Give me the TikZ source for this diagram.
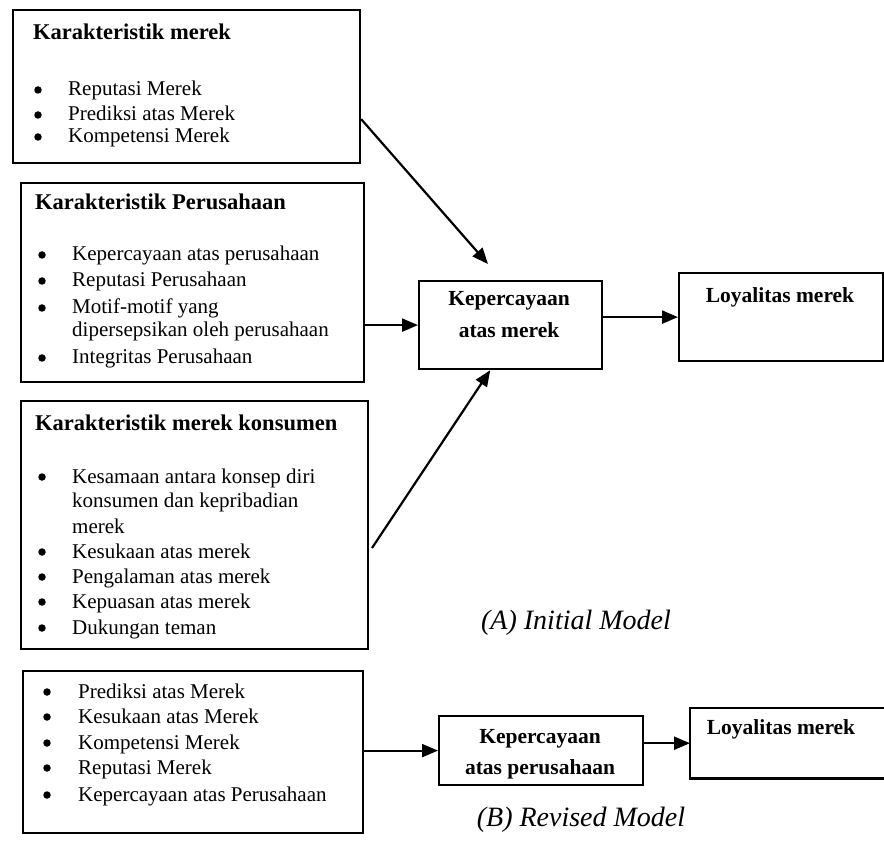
\documentclass[tikz,border=0pt]{standalone}
\usepackage{fontspec}
\newfontfamily\tnr{Liberation Serif}
\usetikzlibrary{arrows.meta,calc}
\tikzset{
  box/.style={draw, line width=2.2pt, anchor=north west, inner sep=0pt},
  ghost/.style={anchor=north west, inner sep=0pt},
  ttl/.style={anchor=base west, inner sep=0pt, font=\tnr\bfseries\fontsize{22.5}{25}\selectfont},
  itm/.style={anchor=base west, inner sep=0pt, font=\tnr\fontsize{21}{24}\selectfont},
  ctr/.style={anchor=base, inner sep=0pt, font=\tnr\bfseries\fontsize{21.5}{24}\selectfont},
  bul/.style={circle, fill, inner sep=0pt, minimum size=7.5pt},
  captxt/.style={inner sep=0pt, font=\tnr\itshape\fontsize{28}{30}\selectfont},
  arr/.style={-{Triangle[length=16pt,width=13pt]}, line width=2.2pt},
  lin/.style={line width=2.2pt}
}
\begin{document}
\begin{tikzpicture}[x=1pt,y=-1pt]
\useasboundingbox (0,0) rectangle (884,842);

% ---------- Box 1
\node[box, minimum width=347pt, minimum height=153pt] (b1) at (12,9) {};
\node[ttl] (b1t) at (33,40) {Karakteristik merek};
\node[bul] (b1d1) at (38,90) {};
\node[itm] (b1i1) at (68,96) {Reputasi Merek};
\node[bul] (b1d2) at (38,115) {};
\node[itm] (b1i2) at (68,121) {Prediksi atas Merek};
\node[bul] (b1d3) at (38,137) {};
\node[itm] (b1i3) at (68,143) {Kompetensi Merek};

% ---------- Box 2
\node[box, minimum width=343pt, minimum height=199pt] (b2) at (20,182) {};
\node[ttl] (b2t) at (35,210) {Karakteristik Perusahaan};
\node[bul] (b2d1) at (42,255) {};
\node[itm] (b2i1) at (72,261) {Kepercayaan atas perusahaan};
\node[bul] (b2d2) at (42,281) {};
\node[itm] (b2i2) at (72,287) {Reputasi Perusahaan};
\node[bul] (b2d3) at (42,308) {};
\node[itm] (b2i3) at (72,314) {Motif-motif yang};
\node[itm] (b2i4) at (72,337) {dipersepsikan oleh perusahaan};
\node[bul] (b2d5) at (42,358) {};
\node[itm] (b2i5) at (72,364) {Integritas Perusahaan};

% ---------- Box 3
\node[box, minimum width=347pt, minimum height=248pt] (b3) at (20,400) {};
\node[ttl] (b3t) at (35,430) {Karakteristik merek konsumen};
\node[bul] (b3d1) at (42,477) {};
\node[itm] (b3i1) at (72,483) {Kesamaan antara konsep diri};
\node[itm] (b3i2) at (72,507) {konsumen dan kepribadian};
\node[itm] (b3i3) at (72,533) {merek};
\node[bul] (b3d4) at (42,552) {};
\node[itm] (b3i4) at (72,558) {Kesukaan atas merek};
\node[bul] (b3d5) at (42,577) {};
\node[itm] (b3i5) at (72,583) {Pengalaman atas merek};
\node[bul] (b3d6) at (42,602) {};
\node[itm] (b3i6) at (72,608) {Kepuasan atas merek};
\node[bul] (b3d7) at (42,628) {};
\node[itm] (b3i7) at (72,634) {Dukungan teman};

% ---------- Box 4
\node[box, minimum width=340pt, minimum height=162pt] (b4) at (22,670) {};
\node[bul] (b4d1) at (47,692) {};
\node[itm] (b4i1) at (78,698) {Prediksi atas Merek};
\node[bul] (b4d2) at (47,717) {};
\node[itm] (b4i2) at (78,723) {Kesukaan atas Merek};
\node[bul] (b4d3) at (47,743) {};
\node[itm] (b4i3) at (78,749) {Kompetensi Merek};
\node[bul] (b4d4) at (47,768) {};
\node[itm] (b4i4) at (78,774) {Reputasi Merek};
\node[bul] (b4d5) at (47,795) {};
\node[itm] (b4i5) at (78,801) {Kepercayaan atas Perusahaan};

% ---------- Model A right part
\node[box, minimum width=183pt, minimum height=88pt] (kA) at (418,280) {};
\node[ctr] (kAt1) at (509,306) {Kepercayaan};
\node[ctr] (kAt2) at (509,338) {atas merek};
\node[box, minimum width=204pt, minimum height=88pt] (lA) at (678,272) {};
\node[ctr] (lAt) at (780,303) {Loyalitas merek};

% ---------- Model B right part
\node[box, minimum width=204pt, minimum height=69pt] (kB) at (438,715) {};
\node[ctr] (kBt1) at (540,743) {Kepercayaan};
\node[ctr] (kBt2) at (540,774) {atas perusahaan};
\node[ghost, minimum width=194pt, minimum height=70pt] (lB) at (690,708) {};
\draw[lin] (lB.north east) -- (lB.north west) -- (lB.south west) -- (lB.south east);
\node[ctr] (lBt) at (781,734) {Loyalitas merek};

% ---------- captions
\node[captxt] (capA) at (576,623) {(A) Initial Model};
\node[captxt] (capB) at (581,820) {(B) Revised Model};

% ---------- connectors
\coordinate (t1e) at (488,264);
\coordinate (t3s) at (372,548);
\draw[arr] ($(b1.south east)!0.29!(b1.north east)$) -- (t1e);
\draw[arr] (kA.west -| b2.east) -- (kA.west);
\draw[arr] (t3s) -- ($(kA.south west)!0.39!(kA.south east)$);
\draw[arr] (lA.west -| kA.east) -- (lA.west);
\draw[arr] (kB.west -| b4.east) -- (kB.west);
\draw[arr] (lB.west -| kB.east) -- (lB.west);
\end{tikzpicture}
\end{document}
